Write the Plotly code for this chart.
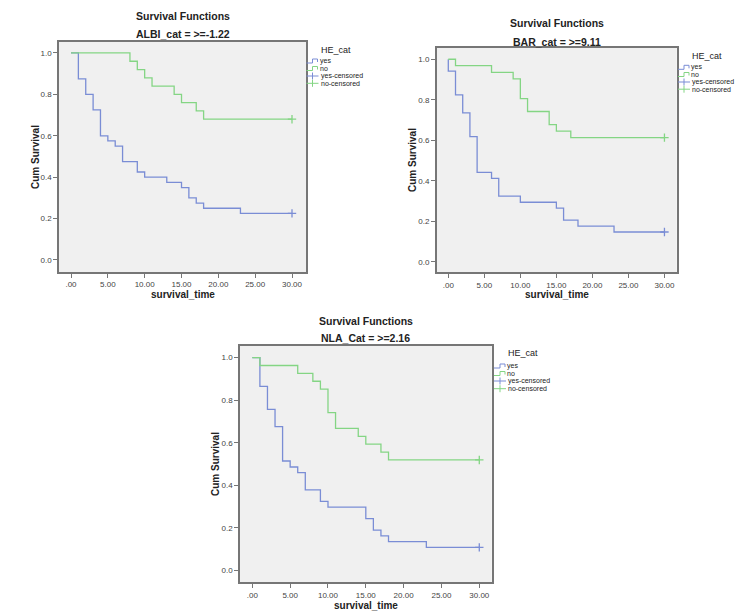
import plotly.graph_objects as go

W, H = 750, 615

# ---------------- data ----------------
titles = ["ALBI_cat = >=-1.22", "BAR_cat = >=9.11", "NLA_Cat = >=2.16"]
main_title = "Survival Functions"
legend_title = "HE_cat"
legend_labels = ["yes", "no", "yes-censored", "no-censored"]
x_tickvals = [0, 5, 10, 15, 20, 25, 30]
x_ticktext = [".00", "5.00", "10.00", "15.00", "20.00", "25.00", "30.00"]
y_tickvals = [0.0, 0.2, 0.4, 0.6, 0.8, 1.0]
y_ticktext = ["0.0", "0.2", "0.4", "0.6", "0.8", "1.0"]

albi_yes_t = [0, 1, 2, 3, 4, 5, 6, 7, 9, 10, 13, 15, 16, 17, 18, 23, 30]
albi_yes_s = [1.0, 0.875, 0.8, 0.725, 0.6, 0.575, 0.55, 0.475, 0.425, 0.4, 0.375, 0.35, 0.3, 0.275, 0.25, 0.225, 0.225]
albi_no_t = [0, 8, 9, 10, 11, 14, 15, 17, 18, 30]
albi_no_s = [1.0, 0.96, 0.92, 0.88, 0.84, 0.80, 0.76, 0.72, 0.68, 0.68]

bar_yes_t = [0, 0, 1, 2, 3, 4, 6, 7, 10, 15, 16, 18, 23, 30]
bar_yes_s = [1.0, 0.941, 0.824, 0.735, 0.618, 0.441, 0.412, 0.324, 0.294, 0.265, 0.206, 0.176, 0.147, 0.147]
bar_no_t = [0, 1, 6, 9, 10, 11, 14, 15, 17, 30]
bar_no_s = [1.0, 0.968, 0.935, 0.903, 0.806, 0.742, 0.677, 0.645, 0.613, 0.613]

nla_yes_t = [0, 1, 2, 3, 4, 5, 6, 7, 9, 10, 15, 16, 17, 18, 23, 30]
nla_yes_s = [1.0, 0.865, 0.757, 0.676, 0.514, 0.486, 0.459, 0.378, 0.324, 0.297, 0.243, 0.189, 0.162, 0.135, 0.108, 0.108]
nla_no_t = [0, 1, 6, 8, 9, 10, 11, 14, 15, 17, 18, 30]
nla_no_s = [1.0, 0.963, 0.926, 0.889, 0.852, 0.741, 0.667, 0.630, 0.593, 0.556, 0.519, 0.519]

censor_time = [30]

panels_data = [
    (albi_yes_t, albi_yes_s, albi_no_t, albi_no_s),
    (bar_yes_t, bar_yes_s, bar_no_t, bar_no_s),
    (nla_yes_t, nla_yes_s, nla_no_t, nla_no_s),
]

# ---------------- layout (pixels) ----------------
boxes = [
    (59, 42, 306, 272),
    (436.7, 47.7, 676.7, 272.3),
    (240, 345.7, 491.7, 582.3),
]
xranges = [[-1.63, 31.9], [-1.61, 31.7], [-1.63, 31.64]]
yranges = [[-0.058, 1.053], [-0.052, 1.057], [-0.056, 1.056]]
title_y = [(16, 34), (23, 42), (320.5, 338)]
xtitle_y = [294, 294, 605]
ytitle_x = [35, 412, 215]
legend_pos = [  # glyph left x, title y, item ys
    (306.5, 50, [61, 68.5, 76, 83.3]),
    (678, 55.7, [67.3, 74.5, 82, 89.2]),
    (494, 353.3, [366, 373.5, 381, 388.7]),
]

BLUE = "#7a8dd5"
GREEN = "#84d584"
FONT = "Liberation Sans"


def px(x):
    return x / W


def py(y):
    return 1 - y / H


fig = go.Figure()
annotations = []
shapes = []

for i, (yt, ys, nt, ns) in enumerate(panels_data):
    l, t, r, b = boxes[i]
    sfx = "" if i == 0 else str(i + 1)
    xa, ya = "x" + sfx, "y" + sfx
    fig.add_trace(go.Scatter(x=yt, y=ys, mode="lines", line=dict(color=BLUE, width=1.3, shape="hv"),
                             xaxis=xa, yaxis=ya, showlegend=False))
    fig.add_trace(go.Scatter(x=nt, y=ns, mode="lines", line=dict(color=GREEN, width=1.3, shape="hv"),
                             xaxis=xa, yaxis=ya, showlegend=False))
    fig.add_trace(go.Scatter(x=censor_time, y=[ys[-1]], mode="markers",
                             marker=dict(symbol="cross-thin", size=6, line=dict(color=BLUE, width=1.3)),
                             xaxis=xa, yaxis=ya, showlegend=False))
    fig.add_trace(go.Scatter(x=censor_time, y=[ns[-1]], mode="markers",
                             marker=dict(symbol="cross-thin", size=6, line=dict(color=GREEN, width=1.3)),
                             xaxis=xa, yaxis=ya, showlegend=False))

    axcommon = dict(showgrid=False, zeroline=False, showline=True, mirror=True,
                    linecolor="#767676", linewidth=1.5, ticks="outside", ticklen=4,
                    tickcolor="#767676", tickwidth=1,
                    tickfont=dict(family=FONT, size=8, color="#444"))
    fig.layout["xaxis" + sfx] = dict(axcommon, domain=[px(l), px(r)], range=xranges[i],
                                     tickvals=x_tickvals, ticktext=x_ticktext,
                                     anchor=ya, fixedrange=True)
    fig.layout["yaxis" + sfx] = dict(axcommon, domain=[py(b), py(t)], range=yranges[i],
                                     tickvals=y_tickvals, ticktext=y_ticktext,
                                     anchor=xa, fixedrange=True)

    cx = (l + r) / 2
    annotations.append(dict(x=px(cx), y=py(title_y[i][0]), xref="paper", yref="paper",
                            text="<b>" + main_title + "</b>", showarrow=False,
                            font=dict(family=FONT, size=10.5, color="#222"), xanchor="center", yanchor="middle"))
    annotations.append(dict(x=px(cx), y=py(title_y[i][1]), xref="paper", yref="paper",
                            text="<b>" + titles[i] + "</b>", showarrow=False,
                            font=dict(family=FONT, size=10.5, color="#222"), xanchor="center", yanchor="middle"))
    annotations.append(dict(x=px(cx), y=py(xtitle_y[i]), xref="paper", yref="paper",
                            text="<b>survival_time</b>", showarrow=False,
                            font=dict(family=FONT, size=10, color="#222"), xanchor="center", yanchor="middle"))
    annotations.append(dict(x=px(ytitle_x[i]), y=py((t + b) / 2), xref="paper", yref="paper",
                            text="<b>Cum Survival</b>", showarrow=False, textangle=-90,
                            font=dict(family=FONT, size=10, color="#222"), xanchor="center", yanchor="middle"))

    # legend drawn as annotations + small glyphs
    gx, ty, iys = legend_pos[i]
    annotations.append(dict(x=px(gx + 13), y=py(ty), xref="paper", yref="paper",
                            text=legend_title, showarrow=False, borderpad=0,
                            font=dict(family=FONT, size=9, color="#222"), xanchor="left", yanchor="middle"))
    colors = [BLUE, GREEN, BLUE, GREEN]
    for k, lab in enumerate(legend_labels):
        iy = iys[k]
        c = colors[k]
        if k < 2:
            path = (f"M {px(gx)},{py(iy + 2)} L {px(gx + 6)},{py(iy + 2)} L {px(gx + 6)},{py(iy - 2)} "
                    f"L {px(gx + 11)},{py(iy - 2)} L {px(gx + 11)},{py(iy + 1)}")
            shapes.append(dict(type="path", path=path, xref="paper", yref="paper",
                               line=dict(color=c, width=1)))
            tx = gx + 12
        else:
            shapes.append(dict(type="line", x0=px(gx), x1=px(gx + 12), y0=py(iy), y1=py(iy),
                               xref="paper", yref="paper", line=dict(color=c, width=1)))
            shapes.append(dict(type="line", x0=px(gx + 6), x1=px(gx + 6), y0=py(iy - 3.5), y1=py(iy + 3.5),
                               xref="paper", yref="paper", line=dict(color=c, width=1)))
            tx = gx + 13
        annotations.append(dict(x=px(tx), y=py(iy), xref="paper", yref="paper",
                                text=lab, showarrow=False, borderpad=0,
                                font=dict(family=FONT, size=7, color="#222"), xanchor="left", yanchor="middle"))

fig.update_layout(width=W, height=H, margin=dict(l=0, r=0, t=0, b=0),
                  paper_bgcolor="white", plot_bgcolor="#f0f0f0",
                  annotations=annotations, shapes=shapes, showlegend=False)

fig.write_html("out.html")
